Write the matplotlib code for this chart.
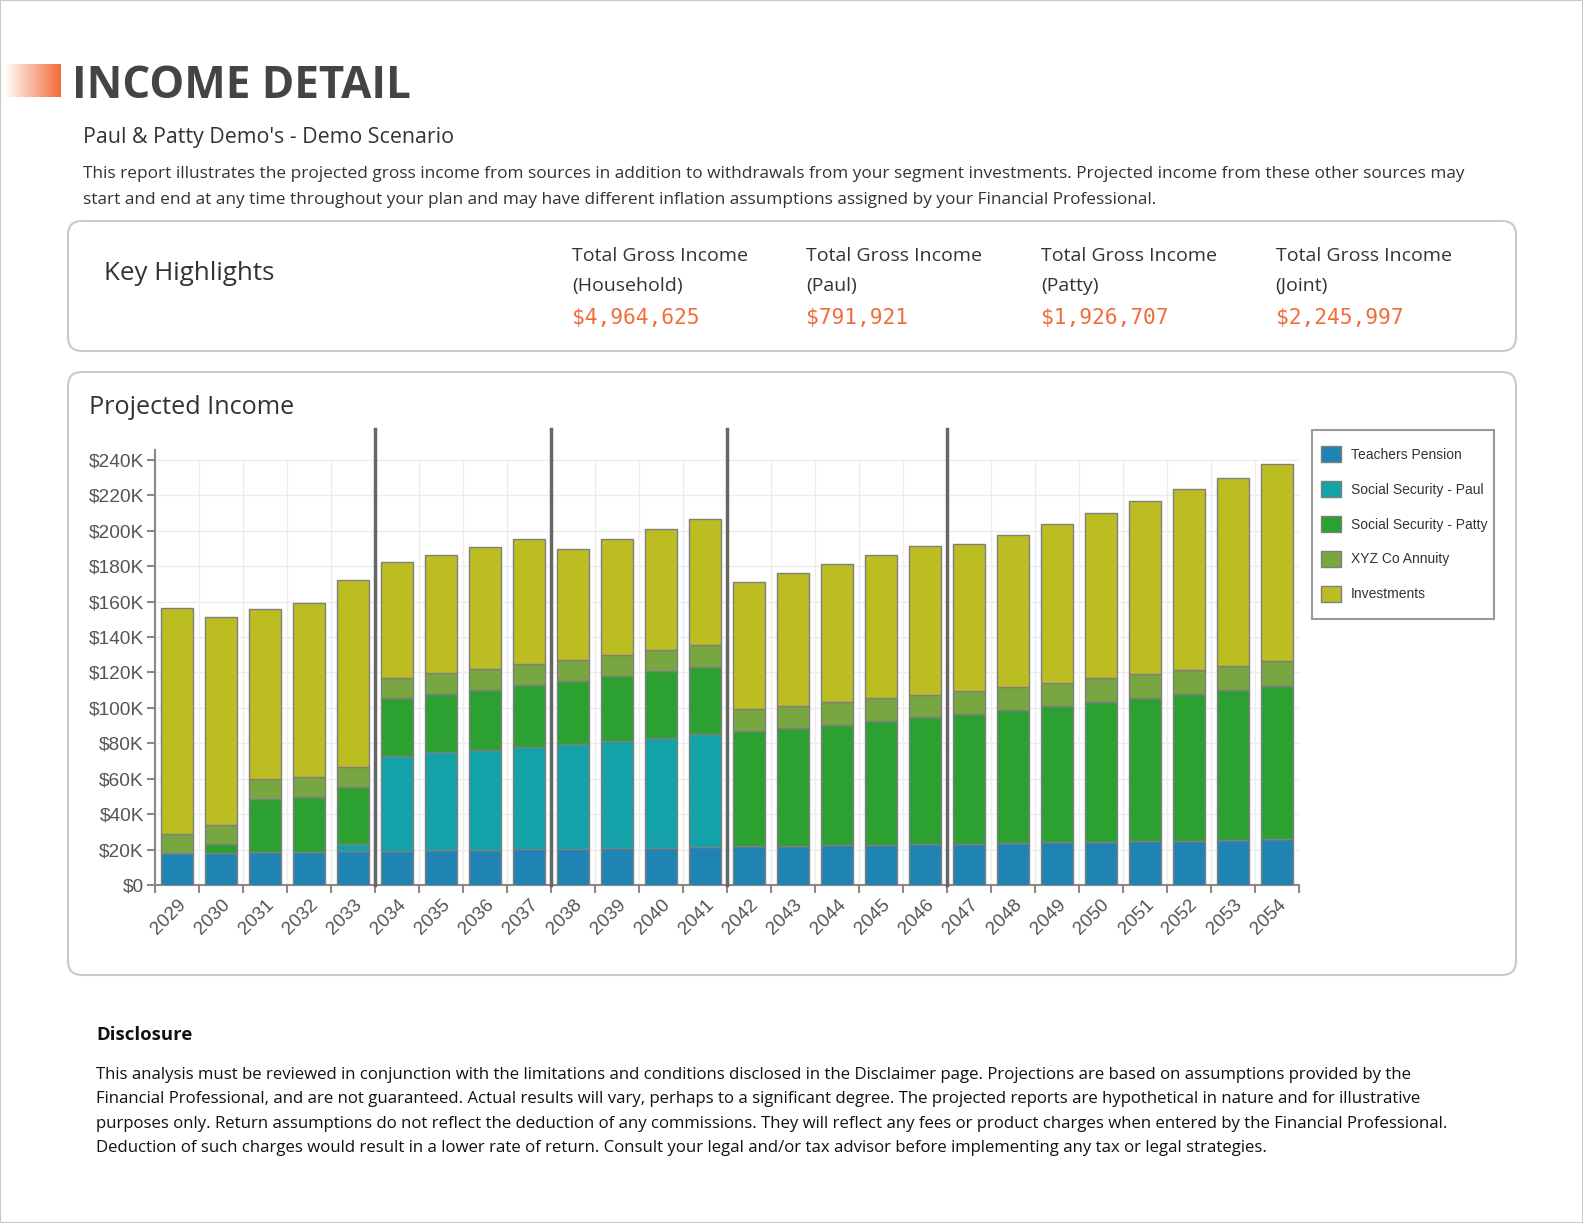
import numpy as np
import matplotlib
matplotlib.use("Agg")
import matplotlib.pyplot as plt
from matplotlib.patches import FancyBboxPatch, Rectangle
from matplotlib.ticker import FuncFormatter, FixedLocator

# data (thousands of dollars)
years = list(range(2029, 2055))
pension = [17.9, 18.1, 18.4, 18.6, 19.0, 19.2, 19.6, 19.8, 20.1, 20.5, 20.7, 21.1, 21.5,
           21.8, 22.0, 22.4, 22.8, 23.0, 23.3, 23.7, 24.1, 24.5, 24.7, 25.0, 25.6, 26.0]
ss_paul = [0, 0, 0, 0, 4.3, 53.8, 55.3, 56.4, 57.8, 59.1, 60.6, 62.1, 63.6,
           0, 0, 0, 0, 0, 0, 0, 0, 0, 0, 0, 0, 0]
ss_patty = [0, 4.9, 30.2, 30.9, 31.9, 32.6, 33.0, 34.1, 34.9, 35.8, 36.5, 37.5, 38.2,
            65.0, 66.5, 68.1, 69.8, 71.7, 73.5, 74.9, 77.0, 78.7, 80.7, 82.7, 84.5, 86.6]
annuity = [10.7, 10.9, 11.1, 11.3, 11.2, 11.3, 11.6, 11.7, 11.8, 11.8, 12.1, 11.8, 12.0,
           12.4, 12.6, 12.7, 12.8, 12.8, 12.9, 13.2, 13.2, 13.5, 13.6, 13.7, 13.8, 13.9]
investments = [128.0, 117.4, 96.3, 98.6, 106.0, 65.3, 66.9, 68.9, 71.0, 62.4, 65.3, 68.3, 71.6,
               72.1, 75.1, 78.1, 81.0, 84.1, 82.9, 86.0, 89.7, 93.4, 97.7, 102.0, 106.1, 111.4]
series_names = ["Teachers Pension", "Social Security - Paul", "Social Security - Patty",
                "XYZ Co Annuity", "Investments"]
series_colors = ["#1f83b4", "#12a2a8", "#2ca030", "#78a641", "#bcbd22"]
separator_after = [2033, 2037, 2041, 2046]

highlight_labels = ["(Household)", "(Paul)", "(Patty)", "(Joint)"]
highlight_values = ["$4,964,625", "$791,921", "$1,926,707", "$2,245,997"]

description = [
    "This report illustrates the projected gross income from sources in addition to withdrawals from your segment investments. Projected income from these other sources may",
    "start and end at any time throughout your plan and may have different inflation assumptions assigned by your Financial Professional.",
]
disclosure = [
    "This analysis must be reviewed in conjunction with the limitations and conditions disclosed in the Disclaimer page. Projections are based on assumptions provided by the",
    "Financial Professional, and are not guaranteed. Actual results will vary, perhaps to a significant degree. The projected reports are hypothetical in nature and for illustrative",
    "purposes only. Return assumptions do not reflect the deduction of any commissions. They will reflect any fees or product charges when entered by the Financial Professional.",
    "Deduction of such charges would result in a lower rate of return. Consult your legal and/or tax advisor before implementing any tax or legal strategies.",
]

W, H = 1583, 1223
fig = plt.figure(figsize=(W / 100, H / 100), dpi=100)
tr = fig.dpi_scale_trans
UI = ["Open Sans", "DejaVu Sans"]
MONO = ["DejaVu Sans Mono"]


def px(x, y):
    # pixel coords (y from top) -> inches
    return x / 100, (H - y) / 100


def text(x, y, s, **kw):
    kw.setdefault("family", UI)
    kw.setdefault("va", "center")
    fig.text(*px(x, y), s, transform=tr, **kw)


def box(x0, y0, x1, y1):
    bx, by = px(x0, y1)
    fig.patches.append(FancyBboxPatch((bx, by), (x1 - x0) / 100, (y1 - y0) / 100,
                                      boxstyle="round,pad=0,rounding_size=0.14",
                                      transform=tr, fc="white", ec="#c9c9c9", lw=1.5,
                                      zorder=-1))


# outer frame
fig.patches.append(Rectangle((0, 0), 1, 1, transform=fig.transFigure, fill=False,
                             ec="#c8c8c8", lw=1.5, zorder=-1))

# header
gax = fig.add_axes([4 / W, 1 - 97 / H, 56 / W, 33 / H])
grad = np.linspace(0, 1, 256)[None, :]
cmap = matplotlib.colors.LinearSegmentedColormap.from_list("g", ["#ffffff", "#f26b3a"])
gax.imshow(grad, aspect="auto", cmap=cmap)
gax.axis("off")
text(72, 86, "INCOME DETAIL", fontsize=31.6, weight="bold", color="#444444")
text(83, 137, "Paul & Patty Demo's - Demo Scenario", fontsize=15.4, color="#333333")
for i, line in enumerate(description):
    text(83, 174 + i * 25.5, line, fontsize=12.4, color="#333333")

# key highlights
box(68, 221, 1516, 351)
text(104, 273, "Key Highlights", fontsize=18.6, color="#333333")
for i, (lab, val) in enumerate(zip(highlight_labels, highlight_values)):
    x = 572 + i * 234.5
    text(x, 256, "Total Gross Income", fontsize=14, color="#333333")
    text(x, 286, lab, fontsize=14, color="#333333")
    text(x, 318, val, fontsize=15.3, color="#f26b3a", family=MONO)

# projected income panel
box(68, 372, 1516, 975)
text(89, 407, "Projected Income", fontsize=18.2, color="#333333")

ax = fig.add_axes([155 / W, 1 - 885 / H, (1299 - 155) / W, (885 - 450) / H])
x = np.arange(len(years))
vals = [np.array(s) * 1000 for s in (pension, ss_paul, ss_patty, annuity, investments)]
bottom = np.zeros(len(years))
handles = []
for v, name, col in zip(vals, series_names, series_colors):
    b = ax.bar(x, v, bottom=bottom, width=0.74, color=col, edgecolor="#7f7f7f",
               linewidth=1, label=name, zorder=3)
    handles.append(b)
    bottom += v

ax.set_xlim(-0.5, len(years) - 0.5)
ax.set_ylim(0, 245600)
yt = np.arange(0, 240001, 20000)
ax.set_yticks(yt)
ax.yaxis.set_major_formatter(FuncFormatter(lambda v, p: "$0" if v == 0 else f"${int(v / 1000)}K"))
for yv in yt[1:]:
    ax.axhline(yv, color="#ececec", lw=1, zorder=0)
bounds = np.arange(-0.5, len(years), 1.0)
ax.vlines(bounds[1:-1], 0, 240000, color="#ececec", lw=1, zorder=0)

ax.set_xticks(x)
ax.set_xticklabels([str(y) for y in years], rotation=45, ha="right", va="top",
                   rotation_mode="anchor", fontsize=13.5, color="#555555", family=["Liberation Sans"])
ax.xaxis.set_minor_locator(FixedLocator(bounds))
ax.tick_params(axis="x", which="major", length=0, pad=8)
ax.tick_params(axis="x", which="minor", length=6, width=1.5, color="#888888")
ax.tick_params(axis="y", length=6, width=1.5, color="#888888", labelsize=13.8,
               labelcolor="#555555", pad=2)
for lab in ax.get_yticklabels():
    lab.set_family(["Liberation Sans"])
for s in ("top", "right"):
    ax.spines[s].set_visible(False)
for s in ("left", "bottom"):
    ax.spines[s].set_color("#888888")
    ax.spines[s].set_linewidth(1.5)

# plan phase separators
for yr in separator_after:
    xs = years.index(yr) + 0.5
    ax.plot([xs, xs], [0, 257500], color="#666666", lw=2.5, clip_on=False, zorder=4)

# legend: own frame (under the axes layer), frameless legend inside it
lx, ly = px(1312, 619)
fig.patches.append(Rectangle((lx, ly), 182 / 100, 189 / 100, transform=tr, fc="white",
                             ec="#9a9a9a", lw=1.5, zorder=-0.5))
leg = ax.legend(handles=handles, loc="upper left", bbox_to_anchor=px(1321, 446),
                bbox_transform=tr, frameon=False,
                handlelength=1.44, handleheight=1.44, labelspacing=1.33, borderpad=0,
                handletextpad=0.72, borderaxespad=0,
                prop={"family": "Liberation Sans", "size": 10})
for t in leg.get_texts():
    t.set_color("#333333")

# disclosure
text(96, 1035, "Disclosure", fontsize=13.3, weight="bold", color="#111111")
for i, line in enumerate(disclosure):
    text(96, 1075 + i * 24.3, line, fontsize=12.1, color="#111111")

fig.savefig("out.png", dpi=100)
